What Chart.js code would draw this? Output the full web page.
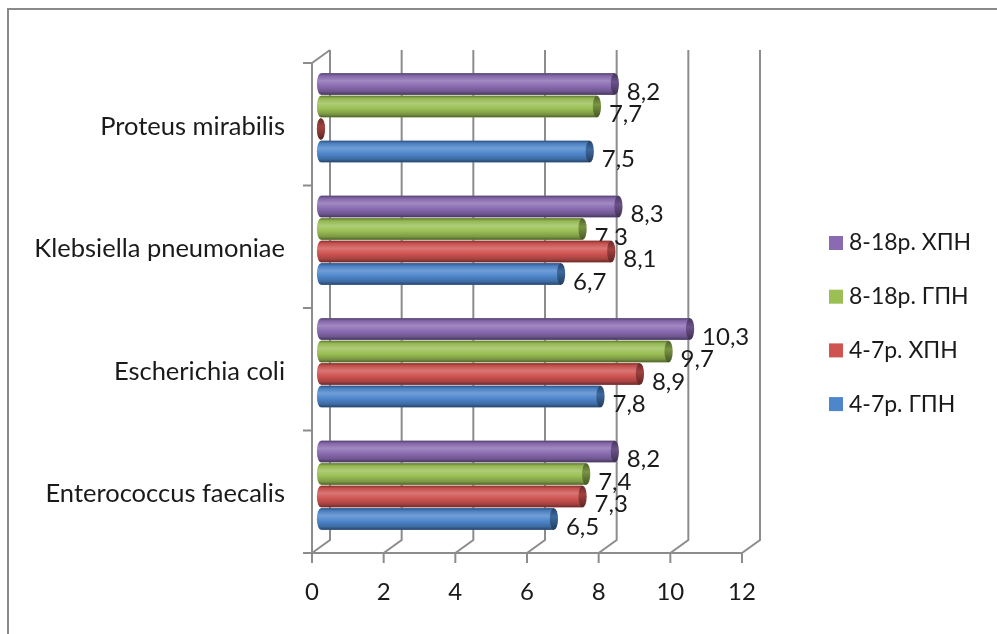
<!DOCTYPE html>
<html>
<head>
<meta charset="utf-8">
<script src="https://cdn.jsdelivr.net/npm/chart.js@4.4.1/dist/chart.umd.min.js"></script>
<style>
  html, body { margin: 0; padding: 0; background: #fff; }
  #wrap { position: relative; width: 997px; height: 634px; overflow: hidden; }
  #frame { position: absolute; left: 7px; top: 8px; width: 1200px; height: 800px;
           border: 2px solid #8a8a8a; box-sizing: border-box; }
  #c { position: absolute; left: 0; top: 0; }
</style>
</head>
<body>
<div id="wrap">
  <div id="frame"></div>
  <canvas id="c" width="997" height="634"></canvas>
</div>
<script>
// Bacteria (categories), top to bottom
const categories = ['Proteus mirabilis', 'Klebsiella pneumoniae', 'Escherichia coli', 'Enterococcus faecalis'];

// Series, listed top bar first within each group
const seriesNames = ['8-18р. ХПН', '8-18р. ГПН', '4-7р. ХПН', '4-7р. ГПН'];
const xpn818 = [8.2, 8.3, 10.3, 8.2];
const gpn818 = [7.7, 7.3, 9.7, 7.4];
const xpn47  = [0,   8.1, 8.9, 7.3];
const gpn47  = [7.5, 6.7, 7.8, 6.5];

// Value axis ticks
const xTicks = [0, 2, 4, 6, 8, 10, 12];

const seriesColors = ['#8a6bb2', '#9bbf55', '#cf5451', '#4e86cc'];
const FONT = 'Lato, "Noto Sans", sans-serif';
const DEPTH = { dx: 9, dy: 6.5 };   // half depth of the 3D box

function shade(hex, f) {
  const n = parseInt(hex.slice(1), 16);
  let r = (n >> 16) & 255, g = (n >> 8) & 255, b = n & 255;
  if (f < 0) { r *= 1 + f; g *= 1 + f; b *= 1 + f; }
  else { r += (255 - r) * f; g += (255 - g) * f; b += (255 - b) * f; }
  return `rgb(${Math.round(r)},${Math.round(g)},${Math.round(b)})`;
}

// Walls, floor and axis ticks of the 3D box
const frame3d = {
  id: 'frame3d',
  beforeDatasetsDraw(chart) {
    const { ctx, chartArea: a, scales: { x, y } } = chart;
    const { dx, dy } = DEPTH;
    const backTop = a.top - dy, backBottom = a.bottom - dy;
    const frontTop = a.top + dy, frontBottom = a.bottom + dy;
    const lx = x.getPixelForValue(xTicks[0]) - dx;
    ctx.save();
    ctx.strokeStyle = '#8c8c8c';
    ctx.lineWidth = 2;
    ctx.beginPath();
    xTicks.forEach(v => {
      const px = x.getPixelForValue(v);
      ctx.moveTo(px + dx, backTop);
      ctx.lineTo(px + dx, backBottom);
      ctx.lineTo(px - dx, frontBottom);
      ctx.moveTo(px - dx, frontBottom);
      ctx.lineTo(px - dx, frontBottom + 10);
    });
    ctx.moveTo(lx - 9, frontBottom);
    ctx.lineTo(x.getPixelForValue(xTicks[xTicks.length - 1]) - dx, frontBottom);
    ctx.moveTo(lx, frontTop);
    ctx.lineTo(lx, frontBottom + 10);
    ctx.moveTo(lx, frontTop);
    ctx.lineTo(lx + 2 * dx, backTop);
    for (let i = 0; i <= categories.length; i++) {
      const py = y.getPixelForValue(i - 0.5) + dy;
      ctx.moveTo(lx - 9, py);
      ctx.lineTo(lx, py);
    }
    ctx.stroke();
    ctx.restore();
  }
};

// Cylinder shading, end caps and value labels on each bar
const cylinders = {
  id: 'cylinders',
  afterDatasetsDraw(chart) {
    const { ctx } = chart;
    chart.data.datasets.forEach((ds, di) => {
      const meta = chart.getDatasetMeta(di);
      const base = seriesColors[di];
      meta.data.forEach((el, i) => {
        const { x, y, base: x0, height: h } = el.getProps(['x', 'y', 'base', 'height'], true);
        const top = y - h / 2, rx = Math.max(3, h * 0.19), ry = h / 2;
        const grad = ctx.createLinearGradient(0, top, 0, top + h);
        grad.addColorStop(0, shade(base, -0.4));
        grad.addColorStop(0.12, shade(base, -0.05));
        grad.addColorStop(0.35, shade(base, 0.2));
        grad.addColorStop(0.6, base);
        grad.addColorStop(0.85, shade(base, -0.2));
        grad.addColorStop(1, shade(base, -0.5));
        ctx.save();
        // body with rounded back end
        ctx.beginPath();
        ctx.ellipse(x0, y, rx, ry, 0, Math.PI / 2, Math.PI * 1.5);
        ctx.lineTo(x, top);
        ctx.lineTo(x, top + h);
        ctx.closePath();
        ctx.fillStyle = grad;
        ctx.fill();
        // end cap
        const capGrad = ctx.createLinearGradient(0, top, 0, top + h);
        capGrad.addColorStop(0, shade(base, -0.5));
        capGrad.addColorStop(0.4, shade(base, -0.22));
        capGrad.addColorStop(1, shade(base, -0.55));
        ctx.beginPath();
        ctx.ellipse(x, y, rx, ry, 0, 0, Math.PI * 2);
        ctx.fillStyle = capGrad;
        ctx.fill();
        ctx.restore();

        const v = ds.data[i];
        if (v) {
          ctx.save();
          ctx.font = `24px ${FONT}`;
          ctx.fillStyle = '#1a1a1a';
          ctx.textAlign = 'left';
          ctx.textBaseline = 'middle';
          ctx.fillText(String(v).replace('.', ','), x + 12, y + 8);
          ctx.restore();
        }
      });
    });
  }
};

// Legend column on the right, top entry first
const sideLegend = {
  id: 'sideLegend',
  afterDraw(chart, args, opts) {
    const { ctx } = chart;
    ctx.save();
    ctx.font = `23px ${FONT}`;
    ctx.textAlign = 'left';
    ctx.textBaseline = 'middle';
    chart.data.datasets.forEach((ds, i) => {
      const cy = opts.top + i * opts.step;
      ctx.fillStyle = seriesColors[i];
      ctx.fillRect(opts.left, cy - 7, 14, 14);
      ctx.fillStyle = '#1a1a1a';
      ctx.fillText(ds.label, opts.left + 20, cy);
    });
    ctx.restore();
  }
};

const seriesValues = [xpn818, gpn818, xpn47, gpn47];

new Chart(document.getElementById('c'), {
  type: 'bar',
  data: {
    labels: categories,
    datasets: seriesNames.map((name, i) => ({
      label: name,
      data: seriesValues[i],
      backgroundColor: seriesColors[i],
      borderWidth: 0
    }))
  },
  options: {
    indexAxis: 'y',
    responsive: false,
    animation: false,
    events: [],
    layout: { padding: { left: 0, right: 246, top: 56.5, bottom: 0 } },
    datasets: { bar: { categoryPercentage: 0.735, barPercentage: 0.96 } },
    scales: {
      x: {
        min: 0, max: 12,
        grid: { display: false, drawTicks: false },
        border: { display: false },
        afterFit: s => { s.height = 87.5; },
        afterBuildTicks: s => { s.ticks = xTicks.map(v => ({ value: v })); },
        ticks: {
          padding: 31,
          labelOffset: -DEPTH.dx,
          color: '#1a1a1a',
          font: { family: FONT, size: 24 }
        }
      },
      y: {
        grid: { display: false, drawTicks: false },
        border: { display: false },
        afterFit: s => { s.width = 321; },
        ticks: {
          padding: 36,
          labelOffset: 9,
          color: '#1a1a1a',
          font: { family: FONT, size: 25.5 }
        }
      }
    },
    plugins: {
      legend: { display: false },
      tooltip: { enabled: false },
      sideLegend: { left: 829, top: 243, step: 53.7 }
    }
  },
  plugins: [frame3d, cylinders, sideLegend]
});
</script>
</body>
</html>
